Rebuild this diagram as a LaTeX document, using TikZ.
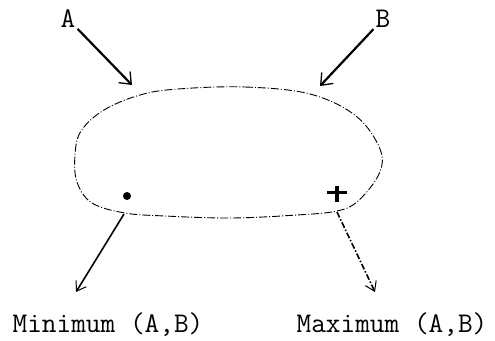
\documentclass[tikz,border=0pt]{standalone}
\usetikzlibrary{arrows.meta}
\begin{document}
\begin{tikzpicture}[x=1pt,y=-1pt,
  etiq/.style={font=\ttfamily\fontsize{28.5}{28.5}\selectfont,inner sep=2pt},
  entrada/.style={line width=2.2pt,-{Straight Barb[length=10pt,width=16pt,line width=1.3pt]}},
  salida/.style={line width=1.6pt,-{Straight Barb[length=9pt,width=12pt,line width=1pt]}},
  borde/.style={line width=0.9pt,dash pattern=on 8pt off 2pt on 1pt off 2pt}]
  \useasboundingbox (0,0) rectangle (495,340);
  \node[etiq] (A) at (68,19) {A};
  \node[etiq] (B) at (383,19) {B};
  \draw[borde] plot[smooth cycle,tension=0.6] coordinates {(178,89) (245,87) (310,94)
    (356,116) (380,149) (379,174) (358,201) (337,211) (297,215) (231,218) (165,216)
    (125,213) (92,203) (77,182) (75,155) (81,131) (104,110) (140,95)};
  \coordinate (inA) at (132,85);
  \coordinate (inB) at (320,86);
  \coordinate (outmin) at (124,214);
  \coordinate (outmax) at (337,212);
  \coordinate (finmin) at (76,292);
  \coordinate (finmax) at (375,292);
  \node[circle,fill,inner sep=0pt,minimum size=8pt] (punto) at (127,196) {};
  \node[inner sep=0pt,minimum width=19pt,minimum height=16pt] (mas) at (337,194) {};
  \draw[line width=3.8pt] ([yshift=1.5pt]mas.west) -- ([yshift=1.5pt]mas.east) (mas.north) -- (mas.south);
  \draw[entrada] (A) -- (inA);
  \draw[entrada] (B) -- (inB);
  \draw[salida] (outmin) -- (finmin);
  \draw[salida,dash pattern=on 6pt off 2pt on 1.5pt off 2pt] (outmax) -- (finmax);
  \node[etiq] (minimo) at (108,325) {Minimum (A,B)};
  \node[etiq] (maximo) at (392,325) {Maximum (A,B)};
\end{tikzpicture}
\end{document}
